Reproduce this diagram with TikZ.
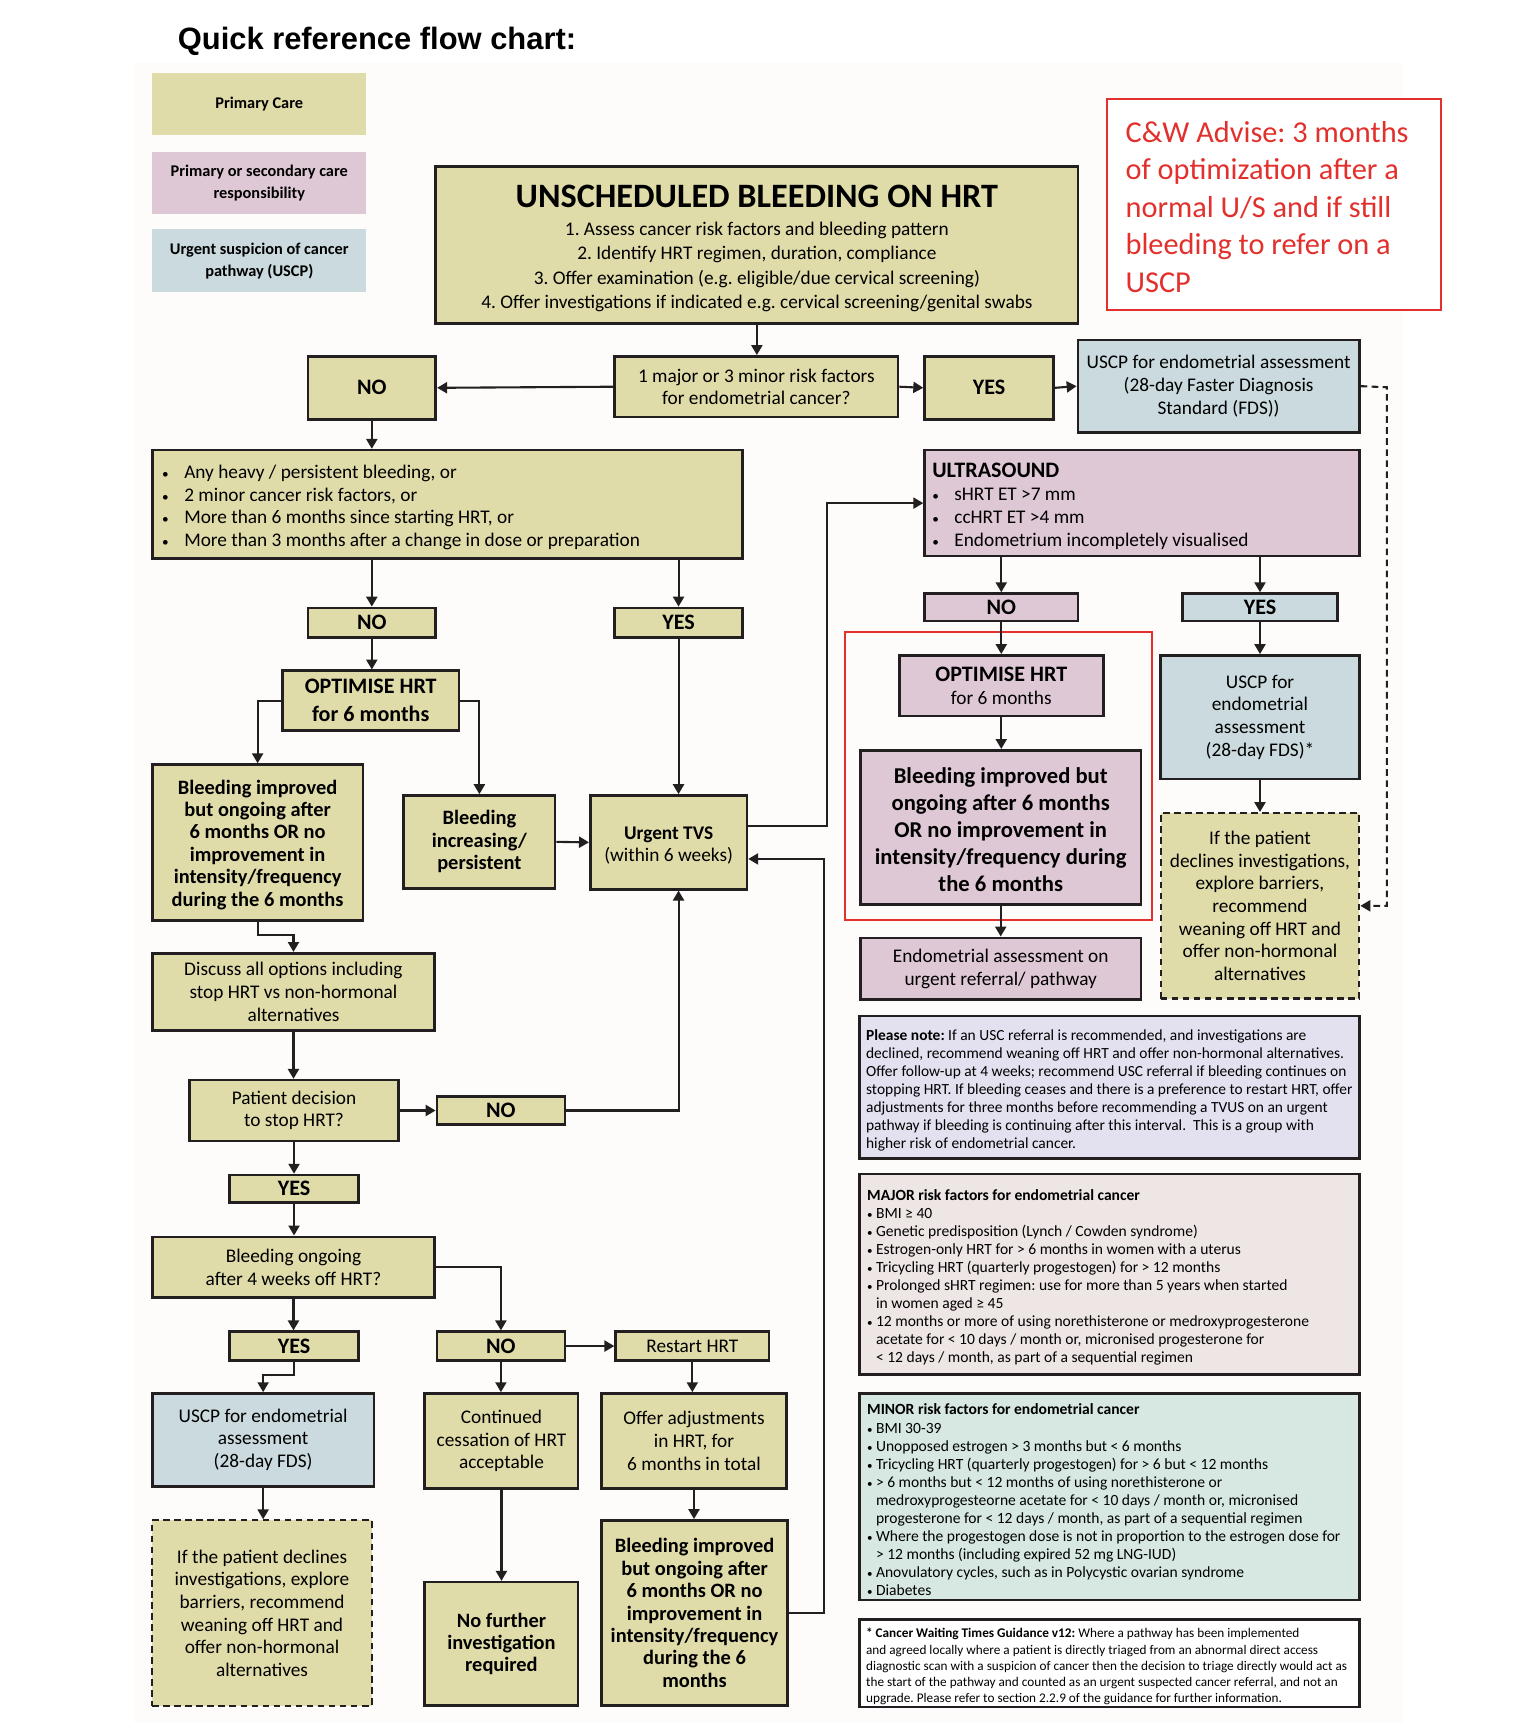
\documentclass[tikz,border=0pt]{standalone}
\usepackage{fontspec}
\setmainfont{Carlito}
\newfontfamily\titlefont{Liberation Sans}
\usetikzlibrary{arrows.meta}
\definecolor{khaki}{HTML}{E0DCA9}
\definecolor{pinkc}{HTML}{DFC8D5}
\definecolor{bluec}{HTML}{CADADE}
\definecolor{lavc}{HTML}{E3E1EF}
\definecolor{majc}{HTML}{EEE6E5}
\definecolor{minc}{HTML}{D6E8E1}
\definecolor{lc}{HTML}{231F20}
\definecolor{redc}{HTML}{E2302D}
\definecolor{panelc}{HTML}{FDFCFA}
\newcommand\fsz[2]{\fontsize{#1}{#2}\selectfont}
\newcommand\bdot{\makebox[20pt][l]{\fsz{12}{12}•}}
\newcommand\sdot{\makebox[8pt][l]{\fsz{10}{10}•}}
\newcommand\sind{\hspace*{8pt}}
\frenchspacing
\begin{document}
\begin{tikzpicture}[x=1pt,y=-1pt,
  bx/.style={draw=lc, line width=2.4pt, inner sep=0pt, align=center, font=\fsz{17.5}{20.5}},
  kh/.style={bx, fill=khaki},
  pk/.style={bx, fill=pinkc},
  bl/.style={bx, fill=bluec},
  dbox/.style={kh, line width=2pt, dash pattern=on 6pt off 4pt},
  yn/.style={font=\bfseries\fsz{20}{22}},
  bb/.style={font=\bfseries\fsz{18.5}{20.3}},
  sz/.style 2 args={minimum width=#1pt, minimum height=#2pt},
  txt/.style={anchor=west, inner sep=0pt, align=left, yshift=-3pt},
  arr/.style={draw=lc, line width=1.9pt, -{Triangle[length=9pt,width=10pt]}},
  darr/.style={arr, dash pattern=on 6pt off 4pt},
  lg/.style={sz={194}{56}, align=center, font=\bfseries\fsz{14.8}{20}},
]
\useasboundingbox (0,0) rectangle (1372,1568);
\fill[panelc] (121,57) rectangle (1272,1562);

% title
\node[anchor=base west, inner sep=0pt, font=\titlefont\bfseries\fsz{28}{30}] (title) at (161,45) {Quick reference flow chart:};

% legend
\node[fill=khaki, lg] (lg1) at (235,94) {Primary Care};
\node[fill=pinkc, lg] (lg2) at (235,166) {Primary or secondary care\\responsibility};
\node[fill=bluec, lg, minimum height=57pt] (lg3) at (235,236.5) {Urgent suspicion of cancer\\pathway (USCP)};

% red advice box
\node[draw=redc, fill=white, line width=2pt, sz={303}{191}] (cw) at (1154.5,185.5) {};
\node[txt, text=redc, font=\fsz{27.5}{34}, yshift=1pt] (cwt) at ([xshift=18pt]cw.west) {C\&W Advise: 3 months\\of optimization after a\\normal U/S and if still\\bleeding to refer on a\\USCP};

% main box
\node[kh, sz={582}{142}, font=\fsz{17.5}{22}] (main) at (686,222) {{\bfseries\fsz{31}{31}\rule{0pt}{27pt}UNSCHEDULED BLEEDING ON HRT}\\[3pt]1. Assess cancer risk factors and bleeding pattern\\2. Identify HRT regimen, duration, compliance\\3. Offer examination (e.g. eligible/due cervical screening)\\4. Offer investigations if indicated e.g. cervical screening/genital swabs};

% row 2
\node[kh, sz={116}{57}, yn] (no1) at (337,351.5) {NO};
\node[kh, sz={257}{55}] (q) at (685.5,350.5) {1 major or 3 minor risk factors\\for endometrial cancer?};
\node[kh, sz={117}{57}, yn] (yes1) at (896.5,351.5) {YES};
\node[bl, sz={255}{84}] (uscp1) at (1104.5,350) {USCP for endometrial assessment\\(28-day Faster Diagnosis\\Standard (FDS))};

% bullet box
\node[kh, sz={535}{98}] (bul) at (405.5,457) {};
\node[txt, font=\fsz{17.5}{20.5}] (bult) at ([xshift=10pt]bul.west) {\bdot Any heavy / persistent bleeding, or\\\bdot 2 minor cancer risk factors, or\\\bdot More than 6 months since starting HRT, or\\\bdot More than 3 months after a change in dose or preparation};

% left column
\node[kh, sz={116}{27}, yn] (no2) at (337,564.5) {NO};
\node[kh, sz={116}{27}, yn] (yes2) at (615,564.5) {YES};
\node[kh, sz={160}{54}, font=\bfseries\fsz{20}{25}] (opt1) at (336,635) {OPTIMISE HRT\\for 6 months};
\node[kh, sz={191}{141}, bb] (bi1) at (233.5,763.5) {\rule{0pt}{17pt}Bleeding improved\\but ongoing after\\6 months OR no\\improvement in\\intensity/frequency\\during the 6 months};
\node[kh, sz={137}{84}, bb] (binc) at (434.5,763) {Bleeding\\increasing/\\persistent};
\node[kh, sz={142}{85}] (tvs) at (606,763.5) {{\bfseries\rule{0pt}{17pt}Urgent TVS}\\(within 6 weeks)};
\node[kh, sz={256}{70}] (disc) at (266,899) {Discuss all options including\\stop HRT vs non-hormonal\\alternatives};
\node[kh, sz={189}{55}] (pd) at (266.5,1006.5) {Patient decision\\to stop HRT?};
\node[kh, sz={116}{25}, yn] (no3) at (454,1006.5) {NO};
\node[kh, sz={117}{25}, yn] (yes3) at (266.5,1077.5) {YES};
\node[kh, sz={256}{55}] (bo) at (266,1148.5) {Bleeding ongoing\\after 4 weeks off HRT?};
\node[kh, sz={117}{26}, yn] (yes4) at (266.5,1220) {YES};
\node[kh, sz={116}{26}, yn] (no4) at (454,1220) {NO};
\node[kh, sz={139}{26}] (rs) at (627.5,1220) {Restart HRT};
\node[bl, sz={201}{84}] (uscp2) at (238.5,1305) {USCP for endometrial\\assessment\\(28-day FDS)};
\node[dbox, sz={199}{168}] (dec2) at (237.5,1462) {If the patient declines\\investigations, explore\\barriers, recommend\\weaning off HRT and\\offer non-hormonal\\alternatives};
\node[kh, sz={139}{86}] (cont) at (454.5,1306) {Continued\\cessation of HRT\\acceptable};
\node[kh, sz={139}{112}, bb] (nofur) at (454.5,1490) {No further\\investigation\\required};
\node[kh, sz={168}{86}] (offer) at (629,1306) {Offer adjustments\\in HRT, for\\6 months in total};
\node[kh, sz={169}{168}, bb] (bi2) at (629.5,1462) {Bleeding improved\\but ongoing after\\6 months OR no\\improvement in\\intensity/frequency\\during the 6\\months};

% right column
\node[pk, sz={394}{96}] (us) at (1035,456) {};
\node[txt, font=\fsz{17.5}{21}] (ust) at ([xshift=8pt]us.west) {{\bfseries\fsz{20}{21}ULTRASOUND}\\\bdot sHRT ET >7 mm\\\bdot ccHRT ET >4 mm\\\bdot Endometrium incompletely visualised};
\node[pk, sz={139}{25}, yn] (no5) at (907.5,550.5) {NO};
\node[bl, sz={140}{25}, yn] (yes5) at (1142,550.5) {YES};
\node[draw=redc, line width=2pt, sz={278}{261}] (hl) at (905,703.5) {};
\node[pk, sz={185}{55}] (opt2) at (907.5,621.5) {{\bfseries\fsz{20}{22}OPTIMISE HRT}\\for 6 months};
\node[pk, sz={254}{140}, font=\bfseries\fsz{20.5}{24.5}] (bi3) at (907,750) {\rule{0pt}{19pt}Bleeding improved but\\ongoing after 6 months\\OR no improvement in\\intensity/frequency during\\the 6 months};
\node[pk, sz={254}{56}, font=\fsz{17.5}{21}] (endo) at (907,878) {Endometrial assessment on\\urgent referral/ pathway};
\node[bl, sz={180}{112}] (uscp3) at (1142,650) {USCP for\\endometrial\\assessment\\(28-day FDS)*};
\node[dbox, sz={180}{168}] (dec1) at (1142,821) {If the patient\\declines investigations,\\explore barriers,\\recommend\\weaning off HRT and\\offer non-hormonal\\alternatives};

% info boxes
\node[bx, fill=lavc, sz={453}{129}] (note) at (1005.5,985.5) {};
\node[txt, font=\fsz{14}{16.3}] (notet) at ([xshift=7pt]note.west) {\textbf{Please note:} If an USC referral is recommended, and investigations are\\declined, recommend weaning off HRT and offer non-hormonal alternatives.\\Offer follow-up at 4 weeks; recommend USC referral if bleeding continues on\\stopping HRT. If bleeding ceases and there is a preference to restart HRT, offer\\adjustments for three months before recommending a TVUS on an urgent\\pathway if bleeding is continuing after this interval.\ \ This is a group with\\higher risk of endometrial cancer.};

\node[bx, fill=majc, sz={453}{182}] (major) at (1005.5,1155) {};
\node[txt, font=\fsz{14.1}{16.3}] (majort) at ([xshift=8pt]major.west) {\textbf{MAJOR risk factors for endometrial cancer}\\\sdot BMI ≥ 40\\\sdot Genetic predisposition (Lynch / Cowden syndrome)\\\sdot Estrogen-only HRT for > 6 months in women with a uterus\\\sdot Tricycling HRT (quarterly progestogen) for > 12 months\\\sdot Prolonged sHRT regimen: use for more than 5 years when started\\\sind in women aged ≥ 45\\\sdot 12 months or more of using norethisterone or medroxyprogesterone\\\sind acetate for < 10 days / month or, micronised progesterone for\\\sind < 12 days / month, as part of a sequential regimen};

\node[bx, fill=minc, sz={453}{187}] (minor) at (1005.5,1356.5) {};
\node[txt, font=\fsz{14.1}{16.4}] (minort) at ([xshift=8pt]minor.west) {\textbf{MINOR risk factors for endometrial cancer}\\\sdot BMI 30-39\\\sdot Unopposed estrogen > 3 months but < 6 months\\\sdot Tricycling HRT (quarterly progestogen) for > 6 but < 12 months\\\sdot > 6 months but < 12 months of using norethisterone or\\\sind medroxyprogesteorne acetate for < 10 days / month or, micronised\\\sind progesterone for < 12 days / month, as part of a sequential regimen\\\sdot Where the progestogen dose is not in proportion to the estrogen dose for\\\sind > 12 months (including expired 52 mg LNG-IUD)\\\sdot Anovulatory cycles, such as in Polycystic ovarian syndrome\\\sdot Diabetes};

\node[bx, fill=white, sz={453}{79}] (foot) at (1005.5,1507.5) {};
\node[txt, font=\fsz{12}{14.6}] (foott) at ([xshift=7pt]foot.west) {\textbf{* Cancer Waiting Times Guidance v12:} Where a pathway has been implemented\\and agreed locally where a patient is directly triaged from an abnormal direct access\\diagnostic scan with a suspicion of cancer then the decision to triage directly would act as\\the start of the pathway and counted as an urgent suspected cancer referral, and not an\\upgrade. Please refer to section 2.2.9 of the guidance for further information.};

% connectors
\draw[arr] (main.south) -- (main.south |- q.north);
\draw[arr] (q.west) -- (no1.east);
\draw[arr] (q.east) -- (yes1.west);
\draw[arr] (yes1.east) -- (uscp1.west);
\coordinate (dc) at (1257,351);
\draw[darr] (uscp1.east) -- (dc) |- (dec1.east);
\draw[arr] (no1.south) -- (no1.south |- bul.north);
\draw[arr] (no2.north |- bul.south) -- (no2.north);
\draw[arr] (yes2.north |- bul.south) -- (yes2.north);
\draw[arr] (no2.south) -- (no2.south |- opt1.north);
\draw[arr] (opt1.west) -| (bi1.north);
\draw[arr] (opt1.east) -| (binc.north);
\draw[arr] (binc.east) -- (tvs.west);
\draw[arr] (yes2.south) -- (yes2.south |- tvs.north);
\draw[arr] ([yshift=15pt]tvs.east) -- ++(71,0) |- (us.west);
\draw[arr] (bi2.east) -- ++(32,0) |- ([yshift=-15pt]tvs.east);
\draw[arr] (no3.east) -| ([xshift=9pt]tvs.south);
\draw[arr] (bi1.south) -- ++(0,12) -| (disc.north);
\draw[arr] (disc.south) -- (disc.south |- pd.north);
\draw[arr] (pd.east) -- (no3.west);
\draw[arr] (pd.south) -- (pd.south |- yes3.north);
\draw[arr] (yes3.south) -- (yes3.south |- bo.north);
\draw[arr] (bo.south) -- (bo.south |- yes4.north);
\draw[arr] (bo.east) -| (no4.north);
\draw[arr] (no4.east) -- (rs.west);
\draw[arr] (yes4.south) -- ++(0,12) -| (uscp2.north);
\draw[arr] (uscp2.south) -- (uscp2.south |- dec2.north);
\draw[arr] (no4.south) -- (no4.south |- cont.north);
\draw[arr] (cont.south) -- (cont.south |- nofur.north);
\draw[arr] (rs.south) -- (rs.south |- offer.north);
\draw[arr] (offer.south) -- (offer.south |- bi2.north);
\draw[arr] (no5.north |- us.south) -- (no5.north);
\draw[arr] (yes5.north |- us.south) -- (yes5.north);
\draw[arr] (no5.south) -- (no5.south |- opt2.north);
\draw[arr] (opt2.south) -- (opt2.south |- bi3.north);
\draw[arr] (bi3.south) -- (bi3.south |- endo.north);
\draw[arr] (yes5.south) -- (yes5.south |- uscp3.north);
\draw[arr] (uscp3.south) -- (uscp3.south |- dec1.north);
\end{tikzpicture}
\end{document}
